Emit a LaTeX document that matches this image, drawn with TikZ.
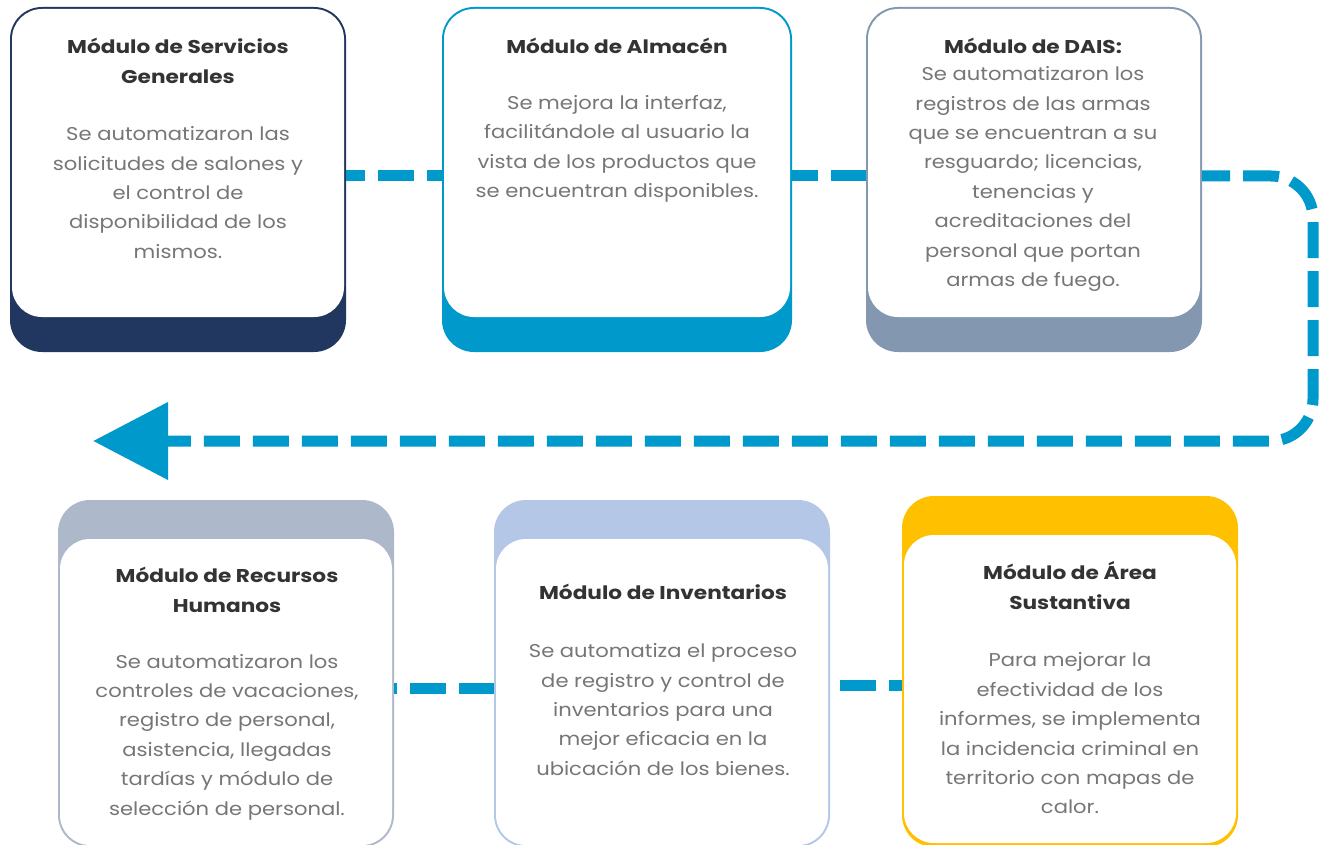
\documentclass[tikz,border=0pt]{standalone}
\usepackage{fontspec}
\setmainfont{Poppins}[FakeStretch=1.14, BoldFeatures={FakeStretch=1.17}]
\usetikzlibrary{arrows.meta}
\definecolor{navyc}{HTML}{22375F}
\definecolor{cyanc}{HTML}{0099CB}
\definecolor{slatec}{HTML}{8497B0}
\definecolor{greyblue}{HTML}{ADB9CA}
\definecolor{paleblue}{HTML}{B4C7E7}
\definecolor{goldc}{HTML}{FFC000}
\definecolor{titlec}{HTML}{333333}
\definecolor{bodyc}{HTML}{767676}
\begin{document}
\begin{tikzpicture}[x=1pt,y=-1pt,
  modbox/.style={rounded corners=32pt, inner sep=0pt, outer sep=0pt, draw=none},
  card/.style={fill=white, rounded corners=30pt},
  ttl/.style={font=\bfseries\fontsize{18.5}{29.5}\selectfont, text=titlec, align=center, inner sep=0pt},
  bdy/.style={font=\fontsize{18.5}{29.4}\selectfont, text=bodyc, align=center, inner sep=0pt},
  conn/.style={draw=cyanc, line width=11pt, dash pattern=on 36pt off 13pt}]
\useasboundingbox (0,0) rectangle (1322,845);
\clip (0,0) rectangle (1322,845);
\fill[white] (0,0) rectangle (1322,845);

% top row boxes
\node[modbox, fill=navyc, minimum width=336pt, minimum height=345pt] (b1) at (178,179.5) {};
\node[modbox, fill=cyanc, minimum width=350pt, minimum height=345pt] (b2) at (617,179.5) {};
\node[modbox, fill=slatec, minimum width=336pt, minimum height=345pt] (b3) at (1034,179.5) {};
% bottom row boxes
\node[modbox, fill=greyblue, minimum width=336pt, minimum height=347pt] (b4) at (226,673.5) {};
\node[modbox, fill=paleblue, minimum width=336pt, minimum height=347pt] (b5) at (662,673.5) {};
\node[modbox, fill=goldc, minimum width=336pt, minimum height=351pt] (b6) at (1070,671.5) {};

% connectors
\draw[conn, dash phase=17pt] ([yshift=3.5pt]b1.east) -- ([yshift=3.5pt]b2.west);
\draw[conn, dash phase=10pt] ([yshift=3.5pt]b2.east) -- ([yshift=3.5pt]b3.west);
\coordinate (c1) at (1313,176);
\coordinate (c2) at (1313,441);
\coordinate (tip) at (93,441);
\draw[conn, dash phase=8pt, rounded corners=42pt, -{Triangle[length=75pt,width=75pt]}] ([yshift=3.5pt]b3.east) -- (c1) -- (c2) -- (tip);
\coordinate (p4) at ([yshift=-14.5pt]b4.east);
\draw[conn, dash phase=33pt] (p4) -- (p4 -| b5.west);
\coordinate (p5) at ([yshift=-11.5pt]b5.east);
\draw[conn, dash phase=39pt] (p5) -- (p5 -| b6.west);

% white cards
\fill[card] (12,9) rectangle (344,317);
\fill[card] (444,9) rectangle (790,317);
\fill[card] (868,9) rectangle (1200,317);
\fill[card] (60,539) rectangle (392,845);
\fill[card] (496,539) rectangle (828,845);
\fill[card] (904,535) rectangle (1236,843);

% texts
\node[ttl] (t1) at (178,61) {Módulo de Servicios\\Generales};
\node[bdy] (d1) at (178,192.5) {Se automatizaron las\\solicitudes de salones y\\el control de\\disponibilidad de los\\mismos.};
\node[ttl] (t2) at (617,46) {Módulo de Almacén};
\node[bdy] (d2) at (617,149) {Se mejora la interfaz,\\facilitándole al usuario la\\vista de los productos que\\se encuentran disponibles.};
\node[ttl] (t3) at (1033,46) {Módulo de DAIS:};
\node[bdy] (d3) at (1033,179) {Se automatizaron los\\registros de las armas\\que se encuentran a su\\resguardo; licencias,\\tenencias y\\acreditaciones del\\personal que portan\\armas de fuego.};
\node[ttl] (t4) at (227,590) {Módulo de Recursos\\Humanos};
\node[bdy] (d4) at (227,737) {Se automatizaron los\\controles de vacaciones,\\registro de personal,\\asistencia, llegadas\\tardías y módulo de\\selección de personal.};
\node[ttl] (t5) at (663,592) {Módulo de Inventarios};
\node[bdy] (d5) at (663,709.5) {Se automatiza el proceso\\de registro y control de\\inventarios para una\\mejor eficacia en la\\ubicación de los bienes.};
\node[ttl] (t6) at (1070,585.5) {Módulo de Área\\Sustantiva};
\node[bdy] (d6) at (1070,733.5) {Para mejorar la\\efectividad de los\\informes, se implementa\\la incidencia criminal en\\territorio con mapas de\\calor.};
\end{tikzpicture}
\end{document}
